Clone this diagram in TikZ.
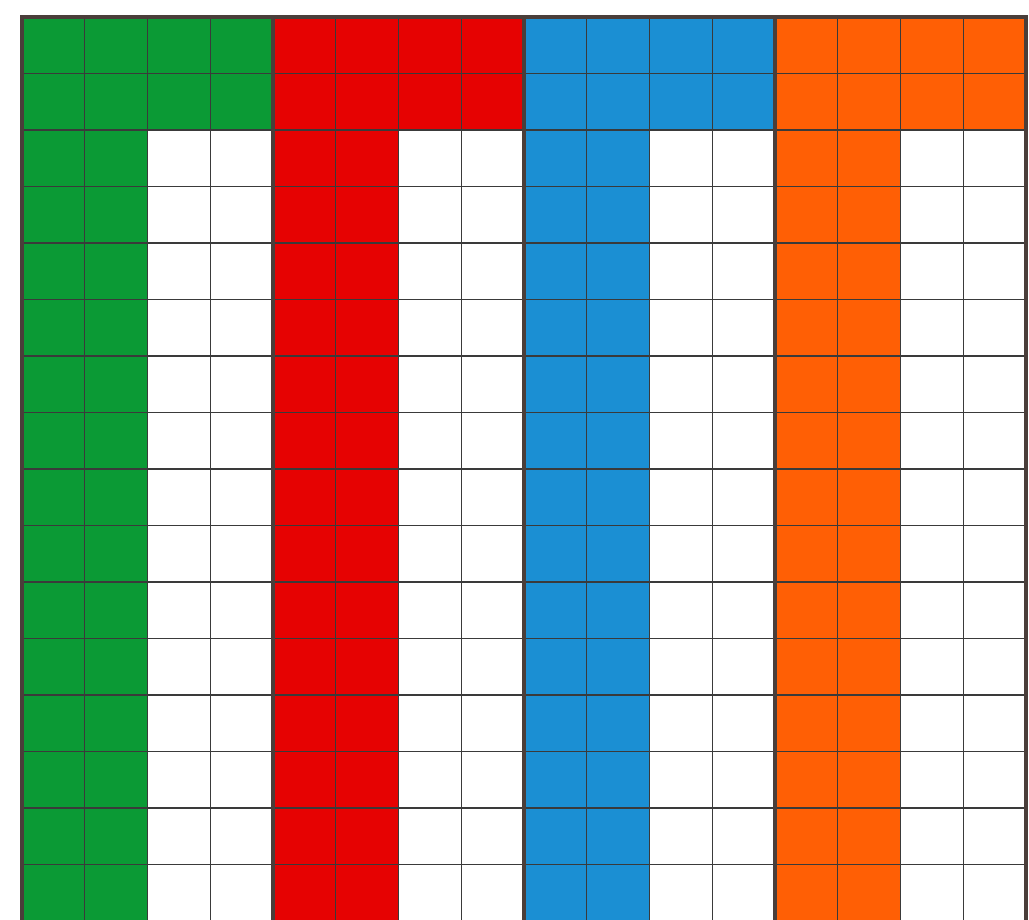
\documentclass[tikz,border=0pt]{standalone}
\definecolor{cgreen}{HTML}{0B9A35}
\definecolor{cred}{HTML}{E60202}
\definecolor{cblue}{HTML}{1B8FD3}
\definecolor{corange}{HTML}{FF5F05}
\definecolor{gridline}{HTML}{3A3A3A}
\definecolor{edgeline}{HTML}{4A3E3A}
\tikzset{
  thinline/.style={draw=gridline, line width=1.4pt},
  thickline/.style={draw=edgeline, line width=3.2pt},
}
\begin{document}
\begin{tikzpicture}[x=1pt,y=-1pt]
\useasboundingbox (0,0) rectangle (1029,920);
\clip (0,0) rectangle (1029,920);
\fill[white] (0,0) rectangle (1029,920);
\def\ox{22}\def\oy{17}\def\cw{62.75}\def\ch{56.5}
\foreach \g/\c in {0/cgreen,1/cred,2/cblue,3/corange}{
  % top two rows full
  \fill[\c] ({\ox+\g*4*\cw},\oy) rectangle ({\ox+(\g*4+4)*\cw},{\oy+2*\ch});
  % two left columns down
  \fill[\c] ({\ox+\g*4*\cw},\oy) rectangle ({\ox+(\g*4+2)*\cw},{\oy+16*\ch});
}
% thin grid lines
\foreach \i in {1,...,15}{
  \draw[thinline] ({\ox+\i*\cw},\oy) -- ({\ox+\i*\cw},{\oy+16*\ch});
  \draw[thinline] (\ox,{\oy+\i*\ch}) -- ({\ox+16*\cw},{\oy+\i*\ch});
}
% group borders
\foreach \i in {0,4,8,12,16}{
  \draw[thickline] ({\ox+\i*\cw},\oy) -- ({\ox+\i*\cw},{\oy+16*\ch});
}
\draw[thickline] ({\ox-1.6},\oy) -- ({\ox+16*\cw+1.6},\oy);
\end{tikzpicture}
\end{document}
